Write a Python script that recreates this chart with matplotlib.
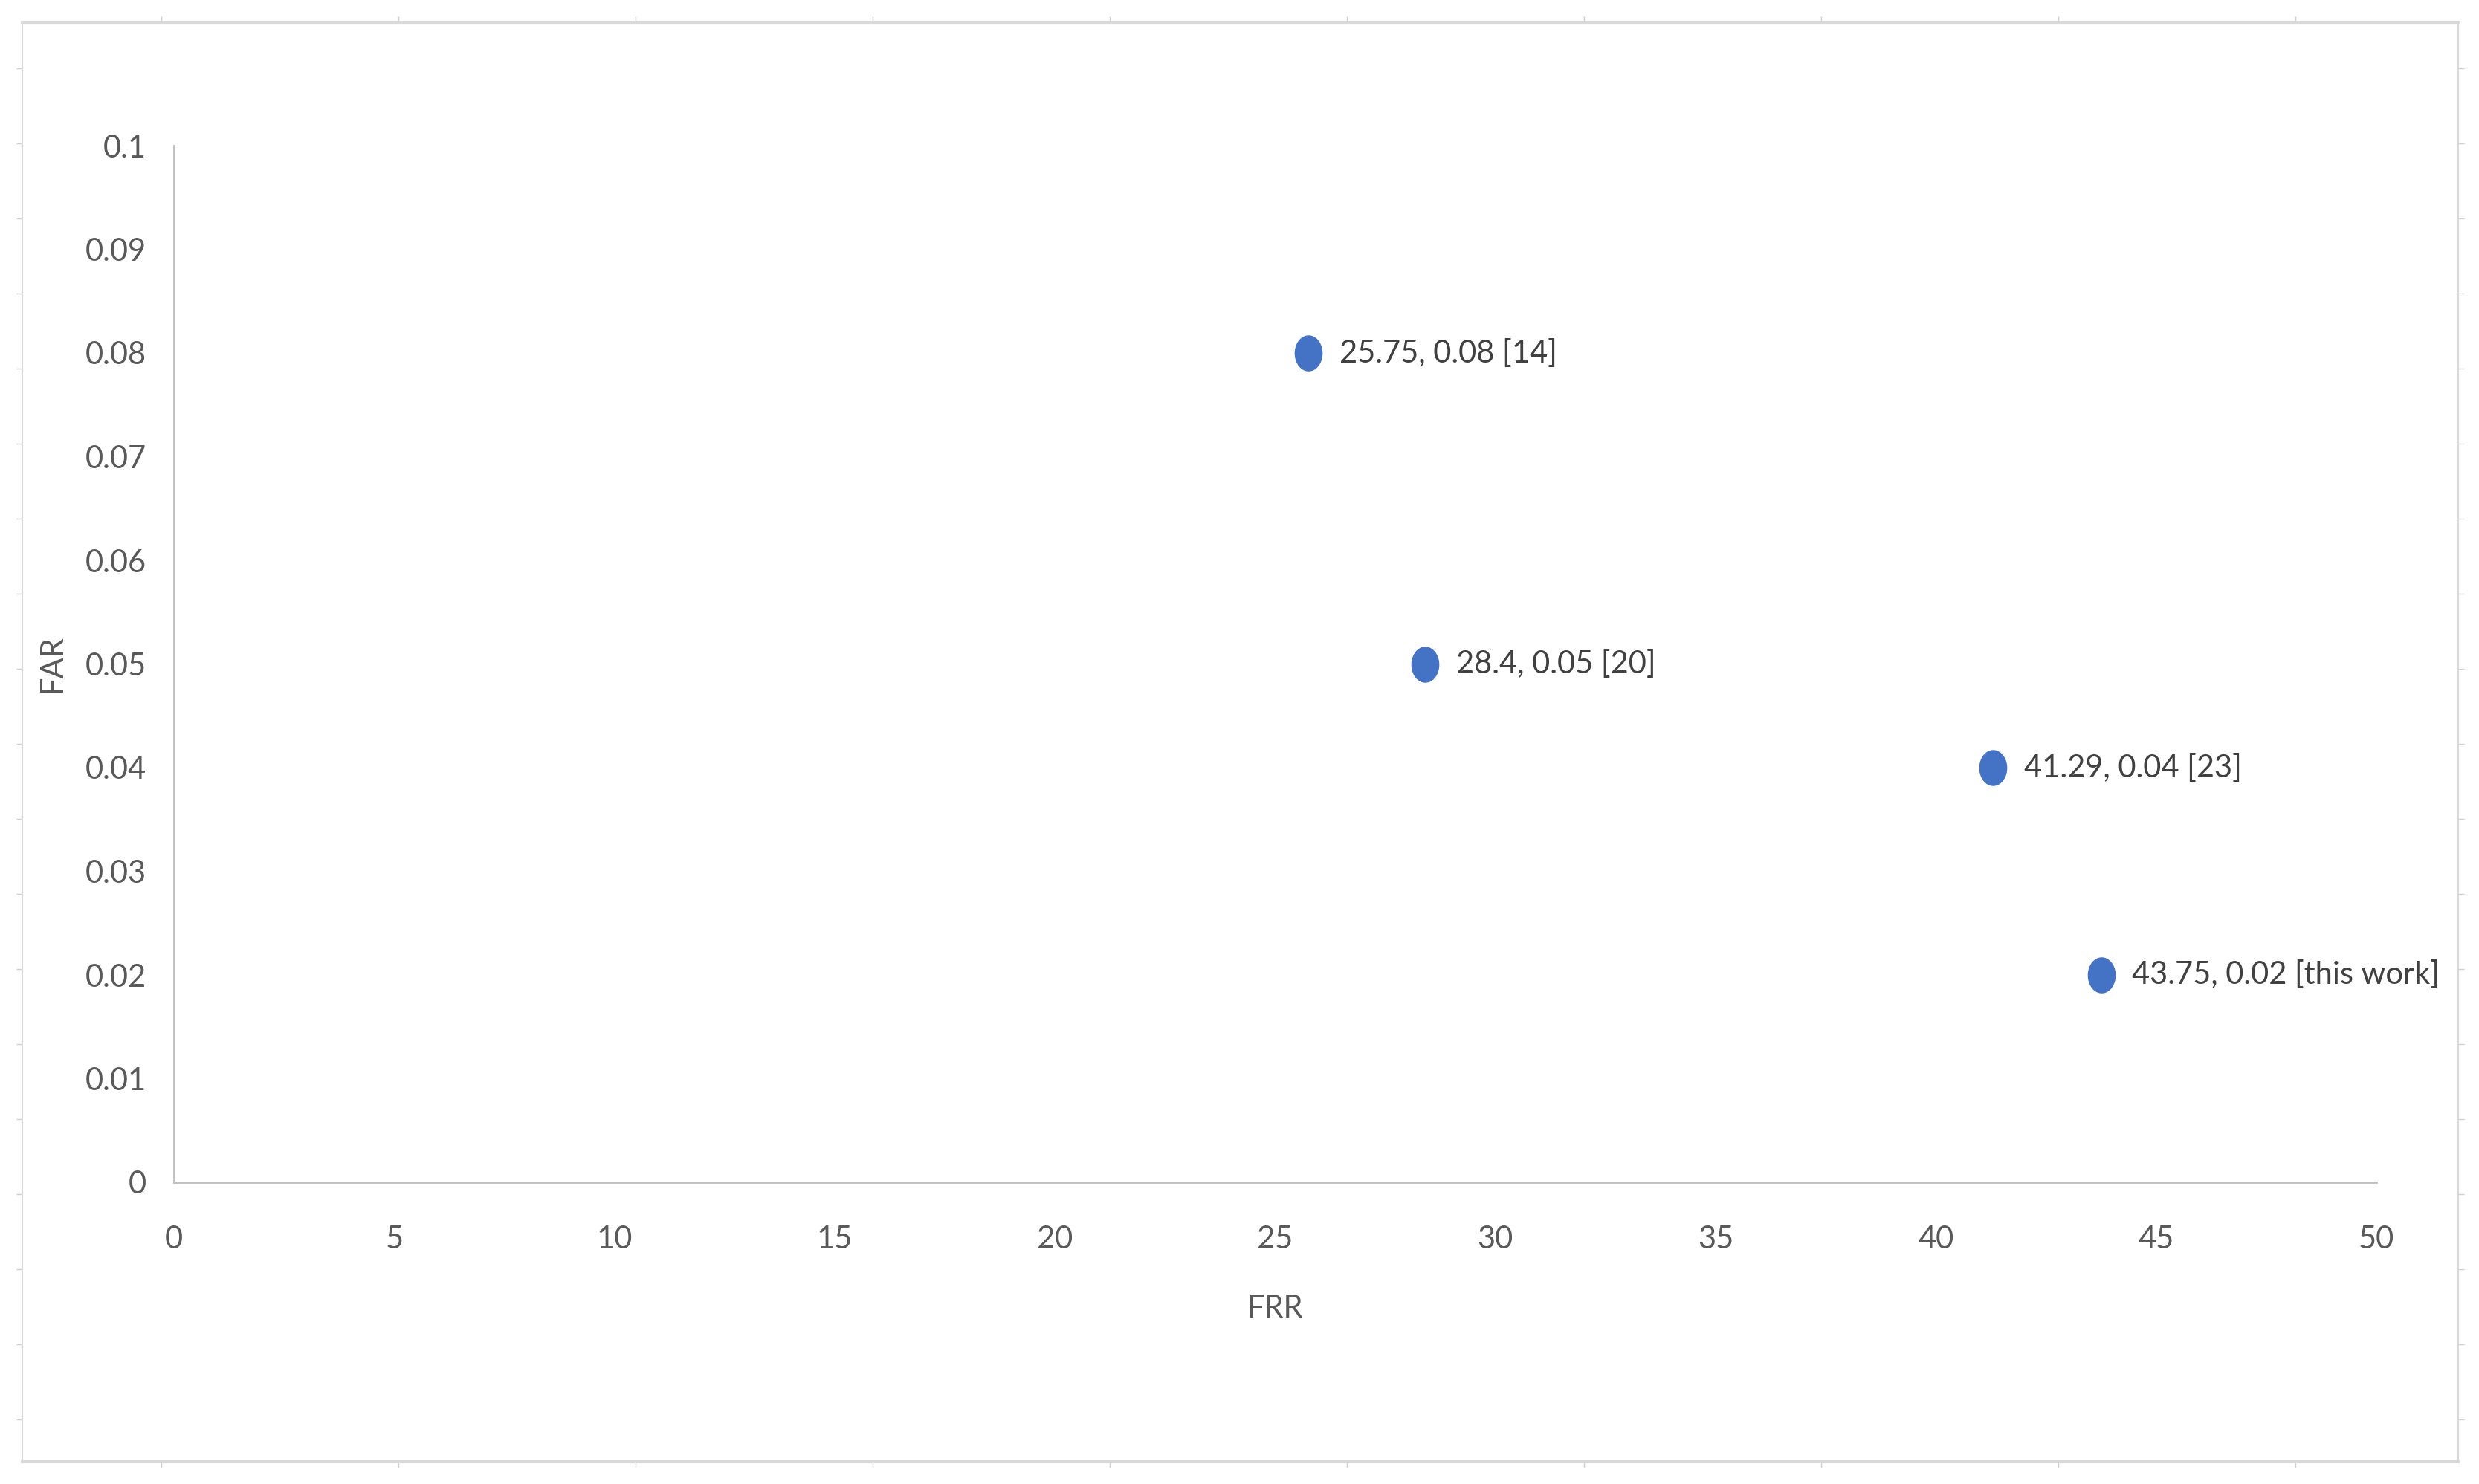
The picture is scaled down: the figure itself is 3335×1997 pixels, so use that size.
import numpy as np
import matplotlib
matplotlib.use("Agg")
import matplotlib.pyplot as plt
from matplotlib.ticker import MultipleLocator, FuncFormatter

# FRR / FAR points and their references
frr = [25.75, 28.4, 41.29, 43.75]
far = [0.08, 0.05, 0.04, 0.02]
refs = ["[14]", "[20]", "[23]", "[this work]"]

W, H = 3335, 1997
TXT = "#404040"
TICK = "#595959"
GRAY = "#BFBFBF"
FS = 30

plt.rcParams["font.family"] = ["Lato", "DejaVu Sans"]

fig = plt.figure(figsize=(W / 100, H / 100), dpi=100)

# outer chart frame with its little ruler ticks
frame = fig.add_axes([30 / W, 30 / H, (3307 - 30) / W, (1967 - 30) / H])
frame.set_xlim(30, 3307)
frame.set_ylim(1967, 30)
for s in ("top", "bottom"):
    frame.spines[s].set(color="#D9D9D9", lw=3)
for s in ("left", "right"):
    frame.spines[s].set(color="#D9D9D9", lw=1.5)
frame.set_xticks(217 + 319 * np.arange(10))
frame.set_yticks(92 + 101 * np.arange(19))
frame.tick_params(direction="out", length=6, width=1, color="#D0D0D0",
                  top=True, right=True, labelbottom=False, labelleft=False)
frame.patch.set_alpha(0)

ax = fig.add_axes([234 / W, 1 - 1591 / H, (3197 - 234) / W, (1591 - 196) / H])
# slightly tall ellipse, like the stretched screenshot
t = np.linspace(0, 2 * np.pi, 60)
oval = np.column_stack([np.cos(t), 1.3 * np.sin(t)])
ax.scatter(frr, far, marker=oval, s=1150, color="#4472C4", zorder=3)
for x, y, r in zip(frr, far, refs):
    ax.annotate(f"{x:g}, {y:g} {r}", (x, y), textcoords="offset points",
                xytext=(30, 0), va="center", ha="left", fontsize=FS, color=TXT,
                annotation_clip=False)

ax.set_xlim(0, 50)
ax.set_ylim(0, 0.1)
ax.xaxis.set_major_locator(MultipleLocator(5))
ax.yaxis.set_major_locator(MultipleLocator(0.01))
ax.yaxis.set_major_formatter(FuncFormatter(lambda v, p: f"{round(v, 2):g}"))
for s in ("top", "right"):
    ax.spines[s].set_visible(False)
for s in ("left", "bottom"):
    ax.spines[s].set(color=GRAY, lw=2)
ax.tick_params(axis="x", length=0, pad=42, labelsize=FS, labelcolor=TICK)
ax.tick_params(axis="y", length=0, pad=27, labelsize=FS, labelcolor=TICK)
ax.set_xlabel("FRR", fontsize=FS, color=TICK, va="center")
ax.set_ylabel("FAR", fontsize=FS, color=TICK, va="center")
ax.xaxis.set_label_coords(0.5, -0.122)
ax.yaxis.set_label_coords(-0.0553, 0.5)
ax.patch.set_alpha(0)

fig.savefig("out.png", dpi=100)
